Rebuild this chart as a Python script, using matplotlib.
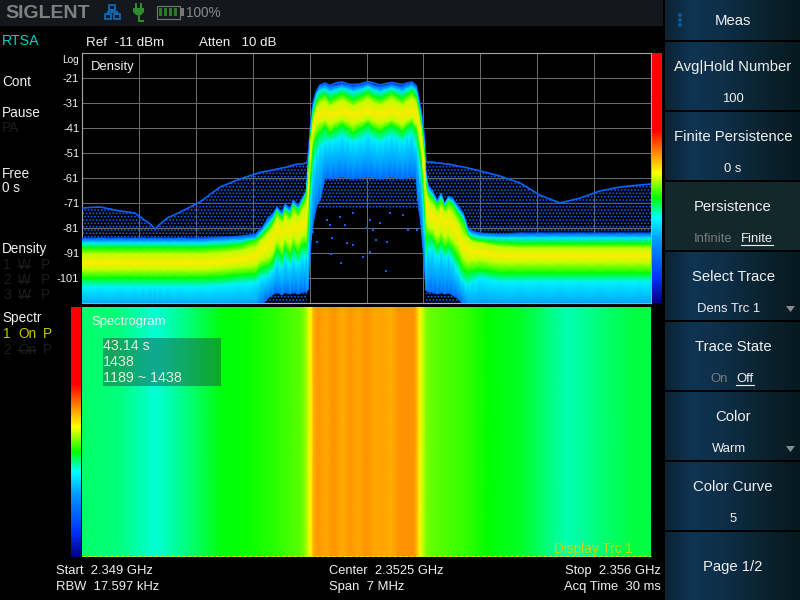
import numpy as np
import matplotlib
matplotlib.use("Agg")
import matplotlib.pyplot as plt
from matplotlib.colors import LinearSegmentedColormap
from matplotlib.patches import Rectangle, Polygon, Circle

plt.rcParams["font.family"] = ["Liberation Sans", "DejaVu Sans"]
plt.rcParams["hatch.linewidth"] = 0.8

# =========================================================
# DATA (frequency offset from start in MHz, levels in dBm)
# =========================================================
FREQ = [0, .22, .47, .65, .75, .84, .90, .96, 1.05, 1.21, 1.45, 1.70, 1.94, 2.13,
        2.21, 2.29, 2.34, 2.40, 2.46, 2.50, 2.56, 2.60, 2.66, 2.71, 2.76,
        2.78, 2.82, 2.85, 2.89, 2.93,
        2.99, 3.05, 3.12, 3.20, 3.27, 3.33, 3.42, 3.52, 3.59, 3.67, 3.74, 3.81, 3.87, 3.94, 4.00, 4.06, 4.11,
        4.13, 4.17, 4.21, 4.23,
        4.26, 4.31, 4.37, 4.42, 4.46, 4.51, 4.56, 4.62, 4.69, 4.75, 4.80,
        4.90, 5.14, 5.39, 5.63, 5.88, 6.13, 6.37, 6.62, 6.86, 7.0]

SPARSE_TOP = [-73, -72.6, -74.2, -75, -77.4, -79.4, -81.4, -79.4, -77, -74.6, -70.6, -64.6, -61.4, -59.4,
              -58.6, -58.2, -57.8, -57.4, -57, -56.8, -56.2, -55.8, -55.4, -55.4, -55,
              -53.8, -37, -29.8, -25.8, -23.8,
              -23, -24, -23, -22.6, -23.4, -23.6, -23.4, -22.4, -23, -23.8, -23.2, -22.8, -23.2, -23.6, -23, -22.6, -24,
              -27, -33.8, -43.8, -54.6,
              -54.6, -54.6, -55, -55, -55.4, -55.4, -55.8, -56.2, -56.6, -57, -57.4,
              -58.2, -60.2, -63, -67.8, -71, -69, -66.2, -64.6, -63.8, -63.4]
BLUE_TOP = [-85, -85, -85, -85, -85, -85, -85, -85, -85, -85, -85, -84.6, -84.2, -83.4,
            -81, -77, -75.4, -72.6, -74.6, -71.4, -73, -69.8, -71.8, -69, -65.8,
            -53.8, -37, -29.8, -25.8, -23.8,
            -23.4, -24.2, -23.8, -23.4, -23.8, -24.2, -23.8, -23, -23.8, -24.2, -23.8, -23.4, -23.8, -24.2, -23.4, -23, -24.2,
            -27, -33.8, -43.8, -57.8,
            -63.8, -65.8, -69.8, -67, -71, -68.2, -69, -71.8, -75, -81, -82.2,
            -83, -83.4, -83, -83, -83, -83, -83, -83, -83, -83]
CYAN_TOP = [-87, -87, -87, -87, -87, -87, -87, -87, -87, -87, -87, -86.6, -86.2, -85.4,
            -82.6, -79.4, -77.4, -73.8, -76.2, -73, -74.6, -71.4, -73.4, -70.2, -67,
            -57.8, -40.2, -32.2, -27.4, -25.8,
            -25.4, -26.6, -25.8, -25, -25.8, -26.6, -25.8, -24.6, -25.8, -26.6, -25.8, -25, -25.8, -26.6, -25.4, -24.6, -26.2,
            -29.4, -36.2, -47.8, -61,
            -65.8, -67.8, -71, -68.6, -71.8, -69.4, -70.6, -73.4, -76.6, -82.6, -83.8,
            -84.6, -85, -85, -85, -85, -85, -85, -85, -85, -85]
GREEN_TOP = [-89, -89, -89, -89, -89, -89, -89, -89, -89, -89, -89, -88.6, -87.8, -85.8,
             -84.2, -81.4, -79.4, -74.6, -77, -74.2, -75.8, -72.2, -74.2, -71, -68.2,
             -61.8, -42.6, -34.6, -30.2, -28.6,
             -27.8, -29.8, -28.6, -27.4, -28.6, -29.8, -28.6, -27, -28.6, -29.4, -28.2, -27, -28.2, -29.4, -27.8, -26.6, -28.6,
             -31.4, -38.6, -50.6, -63.8,
             -67.4, -69, -71.8, -69.8, -72.6, -70.6, -71.8, -75, -78.6, -84.2, -85.4,
             -86.2, -87, -87.4, -87.4, -87.4, -87.4, -87.4, -87.4, -87.4, -87.4]
YELLOW_TOP = [-91.4, -91.4, -91.4, -91.4, -91.4, -91.4, -91.4, -91.4, -91.4, -91.4, -91.4, -91, -90.2, -88.6,
              -85.8, -83, -81, -77, -79, -76.2, -78.2, -75, -77, -73.8, -71.8,
              -65, -45, -37, -32.6, -31,
              -30.2, -32.2, -31, -29.8, -31, -32.2, -31, -29.4, -31, -31.8, -30.6, -29.4, -30.6, -31.8, -30.2, -29, -31,
              -33.8, -41, -53.8, -66.6,
              -69.8, -71.8, -74.6, -72.6, -75, -73.4, -75.4, -78.6, -83.8, -85, -86.6,
              -87, -88.6, -89, -89, -89, -89, -89, -89, -89, -89]
YELLOW_MID = [-95, -95, -95, -95, -95, -95, -95, -95, -95, -95, -95, -94.6, -93.8, -92.6,
              -89.8, -87.8, -85.8, -81.8, -83, -81, -82.6, -80.2, -81, -79.8, -78.6,
              -69.8, -49, -40.2, -36.2, -35.8,
              -35.4, -35.8, -35, -34.6, -35, -35.8, -35, -34.2, -35, -35.4, -35, -34.6, -35, -35.8, -35, -34.2, -35.8,
              -37.8, -45, -59.8, -71.8,
              -74.6, -76.6, -78.6, -77, -79.4, -77.8, -80.2, -83.4, -88.2, -89.8, -90.6,
              -91, -92.2, -92.2, -92.2, -92.2, -92.2, -92.2, -92.2, -92.2, -92.2]
YELLOW_BOT = [-97.8, -97.8, -97.8, -97.8, -97.8, -97.8, -97.8, -97.8, -97.8, -97.8, -97.8, -97.4, -96.6, -96.2,
              -93.8, -93, -91.4, -86.6, -88.6, -85.8, -87.8, -85, -87, -84.6, -83.8,
              -75.8, -53, -43.4, -40.2, -39,
              -38.2, -39.8, -38.6, -37.8, -38.6, -39.8, -38.6, -37.4, -38.6, -39.4, -38.6, -37.8, -38.6, -39.8, -38.2, -37.4, -39.8,
              -41.8, -49.8, -65.8, -78.6,
              -81, -81.8, -84.6, -83, -85, -84.2, -85.8, -88.2, -93, -94.6, -94.2,
              -93.8, -95, -95, -95, -95, -95, -95, -95, -95, -95]
GREEN_BOT = [-101, -101, -101, -101, -101, -101, -101, -101, -101, -101, -101, -100.6, -99.8, -99.4,
             -97, -96.2, -94.6, -89.8, -92.6, -89, -91.8, -88.6, -91, -87.8, -87.8,
             -85.8, -58.6, -47.8, -44.2, -42.6,
             -40.6, -43, -41.4, -39.8, -41.4, -43, -41.4, -39.4, -41.4, -42.6, -41, -39.8, -41, -42.6, -40.6, -39.4, -42.6,
             -45.8, -53.8, -73.8, -85.8,
             -84.2, -85, -88.6, -86.6, -89, -87.8, -89.8, -93, -97.8, -98.6, -98.2,
             -97.8, -99, -99, -99, -99, -99, -99, -99, -99, -99]
CYAN_BOT = [-104.6, -104.6, -104.6, -104.6, -104.6, -104.6, -104.6, -104.6, -104.6, -104.6, -104.6, -104.2, -103.4, -103,
            -101, -100.2, -98.6, -95, -97, -93.8, -96.2, -93.8, -95.4, -93, -93,
            -93, -67.8, -55.8, -51.8, -48.6,
            -47, -46.6, -45.8, -44.6, -45.8, -46.6, -45.8, -44.2, -45.8, -46.6, -45.4, -44.6, -45.4, -46.6, -45, -44.2, -49,
            -53, -61.8, -83.8, -94.6,
            -89.8, -89.8, -92.6, -91, -93, -92.2, -94.6, -98.6, -102.6, -103.8, -102.6,
            -101, -102.6, -102.6, -102.6, -102.6, -102.6, -102.6, -102.6, -102.6, -102.6]
BLUE_BOT = [-117.8, -117.8, -117.8, -117.8, -117.8, -117.8, -117.8, -117.8, -117.8, -117.8, -117.8, -117.8, -117.8, -117,
            -111.8, -109, -107.8, -106.6, -107.8, -106.6, -107.4, -106.6, -107.4, -106.6, -106.6,
            -105.8, -85.8, -77.8, -71.8, -69.8,
            -61, -61.4, -61, -60.6, -61, -61.4, -61, -60.6, -61, -61.4, -61, -60.6, -61, -61.4, -61, -60.6, -61.4,
            -69.8, -79.8, -95.8, -105.8,
            -106.6, -106.6, -107.4, -106.6, -107.4, -107, -107.8, -109, -111.8, -115.8, -117.8,
            -117.8, -117.8, -117.8, -117.8, -117.8, -117.8, -117.8, -117.8, -117.8, -117.8]
SPARSE_BOT = [-117.8, -117.8, -117.8, -117.8, -117.8, -117.8, -117.8, -117.8, -117.8, -117.8, -117.8, -117.8, -117.8, -117.8,
              -111.8, -111, -111, -111, -111, -111, -111, -111, -111, -111, -111,
              -105.8, -85.8, -77.8, -73.8, -73,
              -73, -73, -73, -73, -73, -73, -73, -73, -73, -73, -73, -73, -73, -73, -73, -73, -73,
              -73, -79.8, -95.8, -111,
              -111, -111, -111, -111, -111, -111, -111, -111, -111.8, -115.8, -117.8,
              -117.8, -117.8, -117.8, -117.8, -117.8, -117.8, -117.8, -117.8, -117.8, -117.8]

# isolated hits below the channel
DOT_F = [2.845, 2.886, 3.07, 3.62, 3.75, 3.255, 3.337, 3.06, 3.54, 3.185, 3.46, 3.74, 3.50,
         3.58, 4.01, 4.116, 3.01, 3.17, 3.34, 3.54, 3.79, 3.95, 3.05, 3.235, 3.665]
DOT_DB = [-82.5, -86.5, -85.1, -85.8, -86.5, -87.1, -87.8, -91.5, -90.7, -95.1, -92.7, -98.2, -81.1,
          -81.8, -81.8, -81.8, -77.8, -76.5, -75.1, -77.8, -75.1, -75.8, -79.8, -79.8, -79.1]

# spectrogram: colour scale position per frequency
SPEC_F = [0, .47, .71, .90, 1.08, 1.33, 1.70, 2.07, 2.44, 2.68, 2.74, 2.79, 2.82, 2.85, 2.90,
          3.0, 3.1, 3.2, 3.3, 3.4, 3.5, 3.6, 3.7, 3.8, 3.9, 4.0, 4.08,
          4.12, 4.15, 4.19, 4.23, 4.3, 4.8, 5.0, 5.4, 5.7, 5.95, 6.1, 6.4, 6.8, 7.0]
SPEC_LEVEL = [.39, .38, .365, .355, .365, .385, .415, .425, .44, .455, .47, .51, .53, .575, .59,
              .58, .595, .575, .59, .58, .595, .58, .585, .575, .595, .595, .595,
              .57, .53, .50, .47, .46, .435, .42, .41, .385, .365, .37, .385, .40, .40]

DB_TICKS = [-21, -31, -41, -51, -61, -71, -81, -91, -101]
BAND_LEVEL = [.14, .32, .42, .495, .535, .495, .42, .33, .18]

SCALE = LinearSegmentedColormap.from_list("warm", [
    (0.00, "#000080"), (0.10, "#0033ff"), (0.25, "#0099ff"), (0.34, "#00ffff"),
    (0.42, "#00ff00"), (0.52, "#ffff00"), (0.60, "#ff8c00"), (0.69, "#ff0000"), (1.00, "#ff0000")])
KEY = LinearSegmentedColormap.from_list("key", [
    (0.00, "#0b2233"), (0.20, "#0f3553"), (0.45, "#0d2e46"), (0.70, "#0a2432"), (1.00, "#07191f")])

WHITE = "#f0f0f0"
DIM = "#1d1d1d"
SPECKLE = "#0a62ff"

# =========================================================
# FIGURE LAYOUT (ui axes is in screen pixels)
# =========================================================
fig = plt.figure(figsize=(8, 6), dpi=100, facecolor="black")

def px_axes(x0, y0, x1, y1, **kw):
    return fig.add_axes([x0 / 800, 1 - y1 / 600, (x1 - x0) / 800, (y1 - y0) / 600], **kw)

ax = px_axes(82, 53, 651, 303, facecolor="black")
spec = px_axes(82, 307, 651, 557)
ui = fig.add_axes([0, 0, 1, 1], zorder=5)
ui.patch.set_visible(False)
ui.axis("off")

# =========================================================
# DENSITY
# =========================================================
freq = np.array(FREQ)
bands = np.array([BLUE_TOP, CYAN_TOP, GREEN_TOP, YELLOW_TOP, YELLOW_MID,
                  YELLOW_BOT, GREEN_BOT, CYAN_BOT, BLUE_BOT])
X = np.tile(freq, (len(bands), 1))
C = np.tile(np.array(BAND_LEVEL)[:, None], (1, len(freq)))

ax.set_axisbelow(True)
ax.grid(True, color="#6a6a6a", lw=0.72)
ax.fill_between(freq, SPARSE_TOP, BLUE_TOP, facecolor="none", edgecolor=SPECKLE,
                hatch=".....", linewidth=0, zorder=2)
ax.fill_between(freq, BLUE_BOT, SPARSE_BOT, facecolor="none", edgecolor=SPECKLE,
                hatch=".....", linewidth=0, zorder=2)
ax.plot(freq, SPARSE_TOP, color=SPECKLE, lw=1.2, zorder=3)
ax.pcolormesh(X, bands, C, shading="gouraud", cmap=SCALE, vmin=0, vmax=1, zorder=4)
ax.scatter(DOT_F, DOT_DB, s=2.5, color=SPECKLE, marker="s", linewidths=0, zorder=3)
ax.axhline(-110.8, color="#00e8b0", lw=0.72, zorder=5)

ax.set_xlim(0, 7)
ax.set_ylim(-111, -11)
ax.set_xticks(np.arange(0, 7.01, 0.7))
ax.set_xticklabels([])
ax.set_yticks(DB_TICKS)
ax.set_yticklabels([str(v) for v in DB_TICKS], color=WHITE, fontsize=8)
ax.tick_params(length=0, pad=2)
for s in ax.spines.values():
    s.set_color("#a8a8a8")
    s.set_linewidth(0.8)

# =========================================================
# SPECTROGRAM
# =========================================================
spec.pcolormesh(np.tile(SPEC_F, (2, 1)), [[0] * len(SPEC_F), [1] * len(SPEC_F)],
                np.tile(SPEC_LEVEL, (2, 1)), shading="gouraud", cmap=SCALE, vmin=0, vmax=1)
spec.set_xlim(0, 7)
spec.set_ylim(0, 1)
spec.axis("off")

# =========================================================
# SCREEN FURNITURE
# =========================================================
ramp = np.linspace(1, 0, 256)[:, None]
grad = np.linspace(0, 1, 256)[None, :]

def text(x, y, s, color=WHITE, size=9.8, ha="left", **kw):
    return ui.text(x, y, s, color=color, fontsize=size, ha=ha, va="center", **kw)

def rect(x0, y0, x1, y1, color, **kw):
    ui.add_patch(Rectangle((x0, y0), x1 - x0, y1 - y0, facecolor=color, edgecolor="none", **kw))

# header bar
rect(0, 0, 663, 26, "#14181d")
text(5, 13, "SIGLENT", color="#808080", size=14, fontweight="bold")

# network icon
for x0, y0, x1, y1 in [(109, 5, 115, 10), (105, 14, 111, 19), (114, 14, 120, 19)]:
    ui.add_patch(Rectangle((x0, y0), x1 - x0, y1 - y0, facecolor="none", edgecolor="#0a6fc0", lw=1.2))
ui.plot([112, 112], [10, 12], color="#0a6fc0", lw=1.2)
ui.plot([108, 117], [12, 12], color="#0a6fc0", lw=1.2)
ui.plot([108, 108], [12, 14], color="#0a6fc0", lw=1.2)
ui.plot([117, 117], [12, 14], color="#0a6fc0", lw=1.2)

# plug icon
ui.add_patch(Polygon([(133, 8), (144, 8), (144, 12), (141, 15), (136, 15), (133, 12)], facecolor="#2e8b2e"))
rect(135, 3, 137, 8, "#2e8b2e")
rect(140, 3, 142, 8, "#2e8b2e")
ui.plot([138.5, 138.5, 143], [15, 20.5, 20.5], color="#2e8b2e", lw=1.5)

# battery icon
ui.add_patch(Rectangle((156.5, 5.5), 23, 13, facecolor="none", edgecolor="#777777", lw=0.8))
rect(180, 8, 184, 16, "#777777")
for x0 in [159, 164, 169, 174]:
    rect(x0, 8, x0 + 3, 16, "#2a7a2a")
text(186, 13, "100%", color="#8a8a8a", size=9.8)

# colour bars
ui.imshow(ramp, extent=(652, 662, 303, 53), cmap=SCALE, vmin=0, vmax=1, aspect="auto", zorder=1)
ui.imshow(ramp, extent=(71, 81, 557, 307), cmap=SCALE, vmin=0, vmax=1, aspect="auto", zorder=1)

# left column
text(2, 41, "RTSA", color="#00d2c0", size=10.2)
text(2, 82, "Cont")
text(2, 113, "Pause")
text(2, 128, "PA", color=DIM)
text(2, 174, "Free")
text(2, 188, "0 s")
text(2, 249, "Density")
for n, y in zip("123", [265, 280, 295]):
    text(3, y, n, color=DIM)
    text(18, y, "W", color=DIM)
    text(41, y, "P", color=DIM)
    ui.plot([18, 30], [y + 1, y + 1], color=DIM, lw=1)
text(2, 318, "Spectr")
text(3, 334, "1", color="#c8c800")
text(18, 334, "On", color="#c8c800")
text(43, 334, "P", color="#c8c800")
text(3, 350, "2", color=DIM)
text(18, 350, "On", color=DIM)
text(43, 350, "P", color=DIM)
ui.plot([18, 35], [350, 350], color=DIM, lw=1)

# labels on the plots
text(86, 43, "Ref  -11 dBm", size=9.6)
text(199, 43, "Atten   10 dB", size=9.6)
text(79, 60, "Log", size=7.2, ha="right")
text(91, 67, "Density", size=9.4)
text(91, 322, "Spectrogram", size=9.4)
rect(103, 338, 221, 386, "#204040", alpha=0.45, zorder=3)
text(103, 346, "43.14 s", color="#e8f0d8", size=10.3, zorder=4)
text(103, 362, "1438", color="#e8f0d8", size=10.3, zorder=4)
text(103, 378, "1189 ~ 1438", color="#e8f0d8", size=10.3, zorder=4)
text(633, 549, "Display Trc 1", color="#c8d800", size=9.8, ha="right")
ui.plot([82, 651], [556, 556], color="#e8e000", lw=0.8, ls=(0, (3, 2)))

# bottom readout
text(56, 571, "Start  2.349 GHz", size=9.4)
text(56, 587, "RBW  17.597 kHz", size=9.4)
text(329, 571, "Center  2.3525 GHz", size=9.3)
text(329, 587, "Span  7 MHz", size=9.4)
text(661, 571, "Stop  2.356 GHz", size=9.4, ha="right")
text(661, 587, "Acq Time  30 ms", size=9.4, ha="right")

# softkeys
KEYS = [(0, 40), (42, 110), (112, 180), (182, 250), (252, 320), (322, 390), (392, 460), (462, 530), (532, 600)]
for i, (y0, y1) in enumerate(KEYS):
    if i == 3:
        rect(665, y0, 800, y1, "#12282b", zorder=1)
    else:
        ui.imshow(grad, extent=(665, 800, y1, y0), cmap=KEY, vmin=0, vmax=1, aspect="auto", zorder=1)

for y in [15, 20, 25]:
    ui.add_patch(Circle((680, y), 2, facecolor="#0a5a9a", edgecolor="none", zorder=2))

CX = 733
HEAD = 10.7
text(CX, 21, "Meas", ha="center", size=HEAD, zorder=3)
text(CX, 67, "Avg|Hold Number", ha="center", size=HEAD, zorder=3)
text(CX, 99, "100", ha="center", size=9.4, zorder=3)
text(CX, 137, "Finite Persistence", ha="center", size=HEAD, zorder=3)
text(CX, 169, "0 s", ha="center", size=9.4, zorder=3)
text(CX, 207, "Persistence", ha="center", size=HEAD, zorder=3)
text(713, 239, "Infinite", color="#7a7a7a", ha="center", size=9.4, zorder=3)
text(757, 239, "Finite", ha="center", size=9.4, zorder=3)
ui.plot([741, 773], [245, 245], color=WHITE, lw=0.8, zorder=3)
text(CX, 277, "Select Trace", ha="center", size=HEAD, zorder=3)
text(729, 309, "Dens Trc 1", ha="center", size=9.4, zorder=3)
text(CX, 347, "Trace State", ha="center", size=HEAD, zorder=3)
text(719, 379, "On", color="#7a7a7a", ha="center", size=9.4, zorder=3)
text(745, 379, "Off", ha="center", size=9.4, zorder=3)
ui.plot([736, 754], [385, 385], color=WHITE, lw=0.8, zorder=3)
text(CX, 417, "Color", ha="center", size=HEAD, zorder=3)
text(729, 449, "Warm", ha="center", size=9.4, zorder=3)
text(CX, 487, "Color Curve", ha="center", size=HEAD, zorder=3)
text(CX, 519, "5", ha="center", size=9.4, zorder=3)
text(CX, 567, "Page 1/2", ha="center", size=HEAD, zorder=3)
for y in [306, 446]:
    ui.add_patch(Polygon([(786, y), (795, y), (790.5, y + 6)], facecolor="#8a8a8a", zorder=3))

ui.set_xlim(0, 800)
ui.set_ylim(600, 0)

fig.savefig("out.png", dpi=100, facecolor="black")
